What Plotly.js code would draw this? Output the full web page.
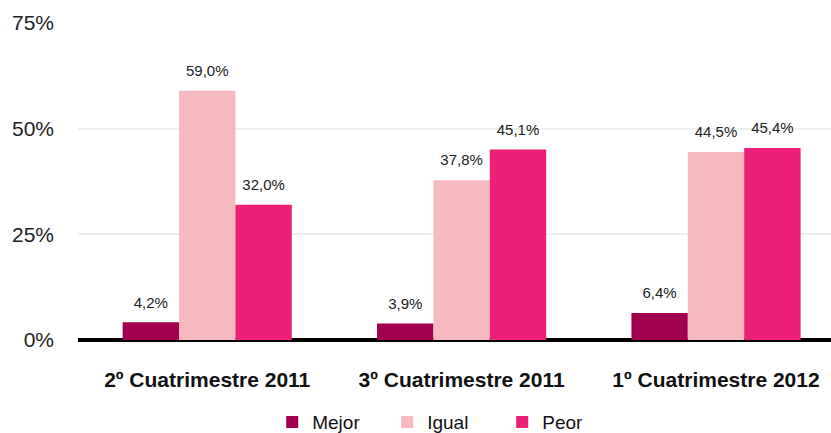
<!DOCTYPE html>
<html><head><meta charset="utf-8">
<script src="https://cdn.plot.ly/plotly-3.0.1.min.js"></script>
<style>body{margin:0;padding:0;background:#fff}#chart{width:831px;height:433px}</style>
</head><body><div id="chart"></div>
<script>
var categories = ["2º Cuatrimestre 2011", "3º Cuatrimestre 2011", "1º Cuatrimestre 2012"];
var seriesNames = ["Mejor", "Igual", "Peor"];
var mejor = [4.2, 3.9, 6.4];
var igual = [59.0, 37.8, 44.5];
var peor = [32.0, 45.1, 45.4];
var yTicks = [0, 25, 50, 75];
var yTickText = ["0%", "25%", "50%", "75%"];
var colors = ["#A1004F", "#F7B9C0", "#EE1F77"];

var seriesValues = [mejor, igual, peor];
var FONT = 'Liberation Sans, Arial, sans-serif';
var traces = seriesValues.map(function(vals, i){
  return {
    type: 'bar', name: seriesNames[i], x: categories, y: vals,
    marker: {color: colors[i], line: {width: 0}},
    hoverinfo: 'skip'
  };
});
seriesValues.forEach(function(vals, i){
  traces.push({
    type: 'scatter', mode: 'markers+text', x: categories, y: vals,
    showlegend: false, hoverinfo: 'skip', cliponaxis: false,
    marker: {size: 16, opacity: 0},
    texttemplate: '%{y:.1f}%', textposition: 'top center',
    textfont: {family: FONT, size: 15, color: '#222'}
  });
});

var layout = {
  width: 831, height: 433,
  margin: {l: 78, r: 0, t: 23, b: 93, autoexpand: false},
  paper_bgcolor: '#fff', plot_bgcolor: '#fff',
  separators: ',.',
  barmode: 'group', bargap: 0.335, bargroupgap: 0,
  scattermode: 'group', scattergap: 0.335,
  font: {family: FONT, color: '#222'},
  xaxis: {
    type: 'category', range: [-0.508, 2.452], showgrid: false, showline: false, zeroline: false,
    automargin: false,
    ticks: '', tickfont: {size: 21, color: '#111', weight: 'bold'}, ticklabelstandoff: 25
  },
  yaxis: {
    range: [0, 75], tickmode: 'array', tickvals: yTicks, ticktext: yTickText, showgrid: true,
    automargin: false,
    gridcolor: '#EEEFEF', gridwidth: 2, zeroline: true, zerolinecolor: '#000', zerolinewidth: 4,
    showline: false, ticks: '', tickfont: {size: 21, color: '#222'}, ticklabelstandoff: 23
  },
  showlegend: true,
  legend: {
    orientation: 'h', x: 0.487, xanchor: 'center', y: -0.259, yanchor: 'middle',
    font: {size: 19, color: '#111'}, traceorder: 'normal', itemwidth: 30, entrywidth: 70
  }
};

Plotly.newPlot('chart', traces, layout, {displayModeBar: false, staticPlot: true});
</script></body></html>
